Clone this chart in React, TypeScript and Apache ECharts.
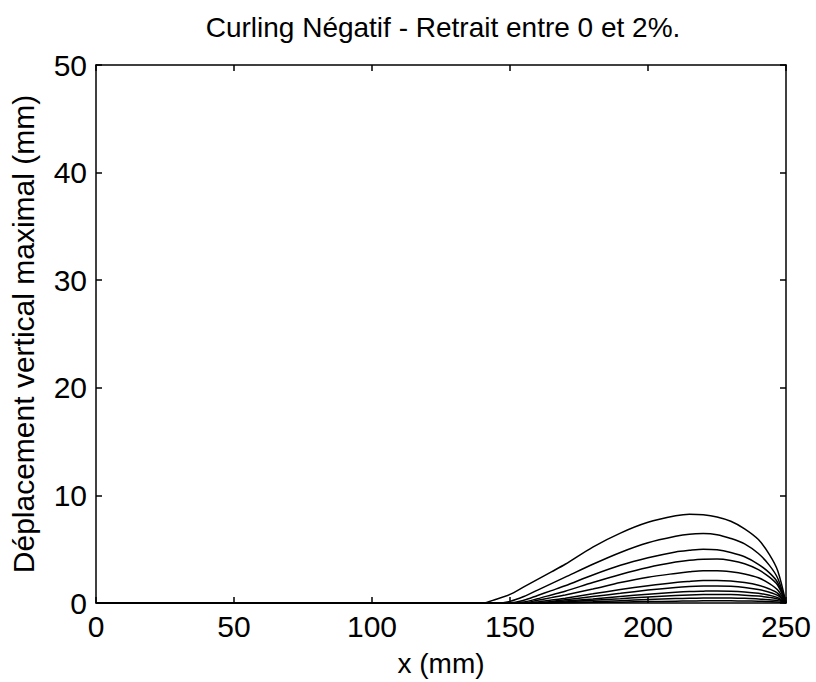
import React, { useEffect, useRef } from "react";
import * as echarts from "echarts";

const titleText = "Curling Négatif - Retrait entre 0 et 2%.";
const xName = "x (mm)";
const yName = "Déplacement vertical maximal (mm)";

const xGrid = [0, 140, 145, 150, 155, 160, 165, 170, 180, 190, 200, 210, 215, 220, 225, 230, 235, 240, 244, 247, 250];

const curve1 = [0, 0, 0.35, 0.8, 1.5, 2.2, 2.9, 3.6, 5.2, 6.5, 7.5, 8.1, 8.25, 8.2, 8.0, 7.6, 6.9, 5.9, 4.5, 3.0, 0];
const curve2 = [0, 0, 0, 0.15, 0.6, 1.2, 1.8, 2.4, 3.6, 4.7, 5.6, 6.2, 6.4, 6.45, 6.35, 6.0, 5.5, 4.6, 3.5, 2.3, 0];
const curve3 = [0, 0, 0, 0, 0.25, 0.7, 1.15, 1.6, 2.6, 3.5, 4.2, 4.75, 4.9, 5.0, 4.95, 4.7, 4.3, 3.6, 2.8, 1.9, 0];
const curve4 = [0, 0, 0, 0, 0.1, 0.4, 0.75, 1.1, 1.9, 2.65, 3.3, 3.8, 3.97, 4.07, 4.08, 3.95, 3.65, 3.1, 2.4, 1.65, 0];
const curve5 = [0, 0, 0, 0, 0.02, 0.25, 0.5, 0.75, 1.3, 1.9, 2.4, 2.75, 2.9, 3.0, 3.0, 2.9, 2.7, 2.35, 1.8, 1.2, 0];
const curve6 = [0, 0, 0, 0, 0, 0.1, 0.27, 0.45, 0.85, 1.25, 1.6, 1.9, 2.0, 2.08, 2.1, 2.05, 1.9, 1.65, 1.3, 0.9, 0];
const curve7 = [0, 0, 0, 0, 0, 0.04, 0.15, 0.3, 0.6, 0.9, 1.2, 1.45, 1.53, 1.57, 1.58, 1.55, 1.45, 1.25, 1.0, 0.7, 0];
const curve8 = [0, 0, 0, 0, 0, 0, 0.08, 0.18, 0.38, 0.6, 0.82, 1.0, 1.07, 1.1, 1.12, 1.1, 1.03, 0.9, 0.72, 0.5, 0];
const curve9 = [0, 0, 0, 0, 0, 0, 0.03, 0.1, 0.25, 0.4, 0.56, 0.7, 0.75, 0.78, 0.79, 0.78, 0.73, 0.64, 0.52, 0.37, 0];
const curve10 = [0, 0, 0, 0, 0, 0, 0, 0.05, 0.12, 0.22, 0.32, 0.41, 0.44, 0.46, 0.47, 0.46, 0.43, 0.38, 0.3, 0.22, 0];
const curve11 = [0, 0, 0, 0, 0, 0, 0, 0, 0.04, 0.08, 0.13, 0.17, 0.19, 0.2, 0.2, 0.2, 0.19, 0.17, 0.13, 0.1, 0];

const curves = [curve1, curve2, curve3, curve4, curve5, curve6, curve7, curve8, curve9, curve10, curve11];

const FONT = "'Liberation Sans', Arial, sans-serif";

export default function App() {
  const ref = useRef<HTMLDivElement>(null);
  useEffect(() => {
    if (!ref.current) return;
    const chart = echarts.init(ref.current, undefined, { renderer: "svg" });
    const tickStyle = { show: true, inside: true, length: 6, lineStyle: { color: "#000", width: 1.5 } };
    const axisLine = { show: true, onZero: false, lineStyle: { color: "#000", width: 1.5 } };
    chart.setOption({
      animation: false,
      backgroundColor: "#fff",
      title: {
        text: titleText,
        left: 438,
        textAlign: "center",
        top: 8,
        textStyle: { fontFamily: FONT, fontSize: 28, fontWeight: "normal", color: "#000" },
      },
      grid: { left: 96, right: 30, top: 65, bottom: 75, show: false },
      xAxis: [
        {
          type: "value",
          min: 0,
          max: 250,
          interval: 50,
          position: "bottom",
          name: xName,
          nameLocation: "middle",
          nameGap: 46,
          nameTextStyle: { fontFamily: FONT, fontSize: 28, color: "#000" },
          axisLine,
          axisTick: tickStyle,
          splitLine: { show: false },
          axisLabel: { fontFamily: FONT, fontSize: 30, color: "#000", margin: 8 },
        },
        {
          type: "value",
          min: 0,
          max: 250,
          interval: 50,
          position: "top",
          axisLine,
          axisTick: tickStyle,
          splitLine: { show: false },
          axisLabel: { show: false },
        },
      ],
      yAxis: [
        {
          type: "value",
          min: 0,
          max: 50,
          interval: 10,
          position: "left",
          name: yName,
          nameLocation: "middle",
          nameGap: 58,
          nameTextStyle: { fontFamily: FONT, fontSize: 30, color: "#000" },
          axisLine,
          axisTick: tickStyle,
          splitLine: { show: false },
          axisLabel: { fontFamily: FONT, fontSize: 30, color: "#000", margin: 9 },
        },
        {
          type: "value",
          min: 0,
          max: 50,
          interval: 10,
          position: "right",
          axisLine,
          axisTick: tickStyle,
          splitLine: { show: false },
          axisLabel: { show: false },
        },
      ],
      series: curves.map((c, i) => ({
        type: "line",
        name: "c" + (i + 1),
        data: xGrid.map((x, j) => [x, c[j]]),
        showSymbol: false,
        smooth: 0.3,
        lineStyle: { color: "#000", width: 1.5 },
        z: 3,
      })),
    });
    return () => chart.dispose();
  }, []);
  return <div ref={ref} style={{ width: 816, height: 682, position: "absolute", left: 0, top: 0 }} />;
}
